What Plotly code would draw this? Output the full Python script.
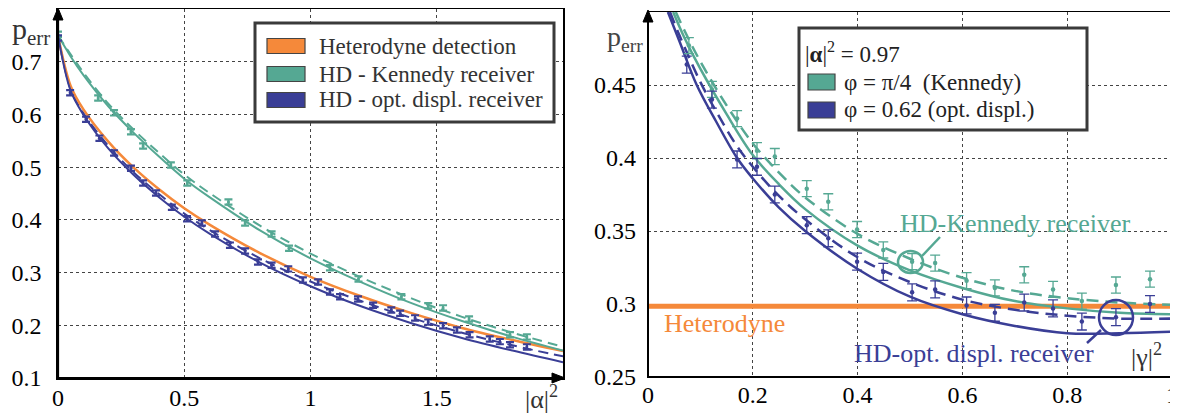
import plotly.graph_objects as go

# page offset of the plot div (browser body margin)
OFF = 8
W, H = 1178 - OFF, 415 - OFF

# ---------------- data: left panel ----------------
curve_x_left = [0.0, 0.05, 0.1, 0.2, 0.3, 0.4, 0.5, 0.6, 0.8, 1.0, 1.2, 1.4, 1.6, 1.8, 2.0]
heterodyne_left = [0.750, 0.654, 0.610, 0.548, 0.499, 0.458, 0.422, 0.391, 0.337, 0.292, 0.255, 0.223, 0.195, 0.172, 0.151]
kennedy_theory_left = [0.750, 0.710, 0.675, 0.615, 0.565, 0.520, 0.478, 0.443, 0.380, 0.327, 0.282, 0.242, 0.208, 0.178, 0.152]
kennedy_model_left = [0.750, 0.714, 0.680, 0.620, 0.571, 0.527, 0.486, 0.451, 0.389, 0.336, 0.291, 0.251, 0.216, 0.186, 0.159]
optdispl_theory_left = [0.750, 0.645, 0.600, 0.535, 0.485, 0.443, 0.406, 0.374, 0.319, 0.274, 0.236, 0.204, 0.176, 0.152, 0.130]
optdispl_model_left = [0.750, 0.648, 0.603, 0.540, 0.490, 0.449, 0.412, 0.381, 0.327, 0.283, 0.246, 0.214, 0.186, 0.162, 0.141]

kennedy_data_x_left = [0.0, 0.159, 0.222, 0.289, 0.337, 0.447, 0.512, 0.675, 0.741, 0.846, 0.915,
                       1.077, 1.19, 1.36, 1.466, 1.525, 1.628, 1.79, 1.857]
kennedy_data_y_left = [0.752, 0.631, 0.603, 0.567, 0.540, 0.504, 0.470, 0.434, 0.394, 0.373, 0.346,
                       0.309, 0.288, 0.254, 0.237, 0.233, 0.212, 0.182, 0.178]
optdispl_data_x_left = [0.0, 0.048, 0.111, 0.164, 0.222, 0.289, 0.337, 0.388, 0.451, 0.511, 0.570, 0.622,
                        0.681, 0.741, 0.792, 0.846, 0.912, 0.970, 1.03, 1.077, 1.117, 1.188, 1.248, 1.32,
                        1.355, 1.414, 1.466, 1.525, 1.58, 1.63, 1.71, 1.75, 1.79, 1.857]
optdispl_data_y_left = [0.745, 0.641, 0.591, 0.555, 0.527, 0.498, 0.470, 0.451, 0.424, 0.402, 0.394, 0.373,
                        0.352, 0.341, 0.320, 0.314, 0.307, 0.286, 0.282, 0.263, 0.254, 0.250, 0.238, 0.229,
                        0.223, 0.214, 0.206, 0.199, 0.191, 0.182, 0.174, 0.169, 0.163, 0.159]

# ---------------- data: right panel ----------------
heterodyne_right_x = [0.0, 1.0]
heterodyne_right_y = [0.2985, 0.2985]

kennedy_theory_x = [0.048, 0.07, 0.1, 0.15, 0.2, 0.25, 0.3, 0.4, 0.5, 0.6, 0.7, 0.8, 0.9, 1.0]
kennedy_theory_y = [0.500, 0.482, 0.461, 0.430, 0.402, 0.382, 0.365, 0.340, 0.323, 0.311, 0.302, 0.297, 0.294, 0.293]
kennedy_model_x = [0.053, 0.07, 0.1, 0.15, 0.2, 0.25, 0.3, 0.4, 0.5, 0.6, 0.7, 0.8, 0.9, 1.0]
kennedy_model_y = [0.500, 0.487, 0.466, 0.436, 0.410, 0.390, 0.373, 0.348, 0.331, 0.318, 0.309, 0.304, 0.301, 0.2995]
optdispl_theory_x = [0.038, 0.06, 0.093, 0.13, 0.17, 0.2, 0.25, 0.3, 0.4, 0.5, 0.6, 0.7, 0.8, 0.9, 1.0]
optdispl_theory_y = [0.500, 0.480, 0.450, 0.425, 0.400, 0.386, 0.366, 0.350, 0.324, 0.305, 0.293, 0.285, 0.280, 0.280, 0.281]
optdispl_model_x = [0.042, 0.06, 0.1, 0.13, 0.17, 0.2, 0.25, 0.3, 0.4, 0.5, 0.6, 0.7, 0.8, 0.9, 1.0]
optdispl_model_y = [0.500, 0.484, 0.452, 0.432, 0.408, 0.394, 0.374, 0.358, 0.332, 0.315, 0.303, 0.296, 0.292, 0.290, 0.290]

kennedy_data_x = [0.078, 0.122, 0.170, 0.208, 0.242, 0.303, 0.344, 0.399, 0.449, 0.504, 0.548, 0.608,
                  0.662, 0.718, 0.773, 0.828, 0.893, 0.958]
kennedy_data_y = [0.477, 0.447, 0.427, 0.405, 0.401, 0.379, 0.370, 0.351, 0.337, 0.329, 0.328, 0.316,
                  0.311, 0.320, 0.310, 0.302, 0.313, 0.317]
optdispl_data_x = [0.074, 0.122, 0.170, 0.208, 0.242, 0.303, 0.344, 0.399, 0.449, 0.504, 0.548, 0.608,
                   0.662, 0.718, 0.773, 0.828, 0.893, 0.958]
optdispl_data_y = [0.464, 0.440, 0.399, 0.394, 0.375, 0.354, 0.345, 0.329, 0.322, 0.308, 0.310, 0.299,
                   0.294, 0.301, 0.297, 0.288, 0.291, 0.300]

left_xticks = [0, 0.5, 1, 1.5]
left_xticklabels = ["0", "0.5", "1", "1.5"]
left_yticks = [0.1, 0.2, 0.3, 0.4, 0.5, 0.6, 0.7]
left_yticklabels = ["0.1", "0.2", "0.3", "0.4", "0.5", "0.6", "0.7"]
right_xticks = [0, 0.2, 0.4, 0.6, 0.8, 1.0]
right_xticklabels = ["0", "0.2", "0.4", "0.6", "0.8", "1"]
right_yticks = [0.25, 0.3, 0.35, 0.4, 0.45]
right_yticklabels = ["0.25", "0.3", "0.35", "0.4", "0.45"]

left_legend = ["Heterodyne detection", "HD - Kennedy receiver", "HD - opt. displ. receiver"]
right_legend_title = "|<b>α</b>|<sup>2</sup> = 0.97"
right_legend = ["φ = π/4  (Kennedy)", "φ = 0.62 (opt. displ.)"]

ORANGE = "#F5893A"
TEAL = "#55A893"
BLUE = "#3A3E96"
SERIF = "Liberation Serif, Times New Roman, serif"


def px(x):
    return (x - OFF) / W


def py(y):
    return 1 - (y - OFF) / H


fig = go.Figure()


def line(x, y, color, width, dash, xa, ya):
    fig.add_trace(go.Scatter(x=x, y=y, mode="lines", xaxis=xa, yaxis=ya, showlegend=False,
                             line=dict(color=color, width=width, dash=dash, shape="spline", smoothing=1.0),
                             hoverinfo="skip"))


# ---- left panel traces ----
line(curve_x_left, kennedy_model_left, TEAL, 2, "10px,6px", "x", "y")
line(curve_x_left, optdispl_model_left, BLUE, 2, "10px,6px", "x", "y")
line(curve_x_left, heterodyne_left, ORANGE, 2.5, "solid", "x", "y")
line(curve_x_left, kennedy_theory_left, TEAL, 2, "solid", "x", "y")
line(curve_x_left, optdispl_theory_left, BLUE, 2, "solid", "x", "y")

fig.add_trace(go.Scatter(x=kennedy_data_x_left, y=kennedy_data_y_left, mode="markers", xaxis="x", yaxis="y",
                         showlegend=False, marker=dict(color=TEAL, size=3),
                         error_y=dict(type="constant", value=0.005, width=4, thickness=2.2, color=TEAL)))
fig.add_trace(go.Scatter(x=optdispl_data_x_left, y=optdispl_data_y_left, mode="markers", xaxis="x", yaxis="y",
                         showlegend=False, marker=dict(color=BLUE, size=3),
                         error_y=dict(type="constant", value=0.005, width=4, thickness=2.2, color=BLUE)))

# ---- right panel traces ----
fig.add_trace(go.Scatter(x=heterodyne_right_x, y=heterodyne_right_y, mode="lines", xaxis="x2", yaxis="y2",
                         showlegend=False, line=dict(color=ORANGE, width=5), hoverinfo="skip"))
line(kennedy_model_x, kennedy_model_y, TEAL, 2.5, "12px,7px", "x2", "y2")
line(optdispl_model_x, optdispl_model_y, BLUE, 2.5, "12px,7px", "x2", "y2")
line(kennedy_theory_x, kennedy_theory_y, TEAL, 2.5, "solid", "x2", "y2")
line(optdispl_theory_x, optdispl_theory_y, BLUE, 2.5, "solid", "x2", "y2")

fig.add_trace(go.Scatter(x=kennedy_data_x, y=kennedy_data_y, mode="markers", xaxis="x2", yaxis="y2",
                         showlegend=False, marker=dict(color=TEAL, size=4.5),
                         error_y=dict(type="constant", value=0.0055, width=5, thickness=1.3, color=TEAL)))
fig.add_trace(go.Scatter(x=optdispl_data_x, y=optdispl_data_y, mode="markers", xaxis="x2", yaxis="y2",
                         showlegend=False, marker=dict(color=BLUE, size=4.5),
                         error_y=dict(type="constant", value=0.0058, width=5, thickness=1.3, color=BLUE)))

tickfont = dict(family=SERIF, size=24, color="black")
grid = dict(showgrid=True, gridcolor="#444", gridwidth=1, griddash="dot", zeroline=False,
            showline=True, linecolor="black", mirror=True, ticks="", automargin=False)

fig.update_layout(
    width=W, height=H, margin=dict(l=0, r=0, t=0, b=0),
    font=dict(family=SERIF),
    paper_bgcolor="white", plot_bgcolor="white", showlegend=False,
    xaxis=dict(domain=[px(58), px(563)], range=[0, 2.0], anchor="y", tickvals=left_xticks,
               ticktext=left_xticklabels, tickfont=tickfont, linewidth=1.6, ticklabelstandoff=-3, **grid),
    yaxis=dict(domain=[py(378), py(9)], range=[0.1, 0.8], anchor="x", tickvals=left_yticks,
               ticktext=left_yticklabels, tickfont=tickfont, linewidth=1.6, ticklabelstandoff=10, **grid),
    xaxis2=dict(domain=[px(648), px(1172)], range=[0, 1.0], anchor="y2", tickvals=right_xticks,
                ticktext=right_xticklabels, tickfont=tickfont, linewidth=1.4, ticklabelstandoff=-4, **grid),
    yaxis2=dict(domain=[py(377), py(12)], range=[0.25, 0.5], anchor="x2", tickvals=right_yticks,
                ticktext=right_yticklabels, tickfont=tickfont, linewidth=1.4, ticklabelstandoff=6, **grid),
)

shapes = []
annotations = []

# thicker main axis lines
shapes.append(dict(type="line", xref="paper", yref="paper", x0=px(58), x1=px(58), y0=py(378), y1=py(10),
                   line=dict(color="black", width=2.2)))
shapes.append(dict(type="line", xref="paper", yref="paper", x0=px(58), x1=px(556), y0=py(378), y1=py(378),
                   line=dict(color="black", width=2.2)))
shapes.append(dict(type="line", xref="paper", yref="paper", x0=px(648), x1=px(648), y0=py(377), y1=py(13),
                   line=dict(color="black", width=2.0)))
shapes.append(dict(type="line", xref="paper", yref="paper", x0=px(648), x1=px(1172), y0=py(377), y1=py(377),
                   line=dict(color="black", width=2.0)))


def tri(points):
    d = "M " + " L ".join(f"{px(a):.5f},{py(b):.5f}" for a, b in points) + " Z"
    return dict(type="path", xref="paper", yref="paper", path=d, fillcolor="black",
                line=dict(color="black", width=1))


# arrows
shapes.append(tri([(58, 8), (53, 20), (63, 20)]))
shapes.append(tri([(565, 378), (552, 373), (552, 383)]))
shapes.append(tri([(648, 10), (643, 22), (653, 22)]))

# left legend box
shapes.append(dict(type="rect", xref="paper", yref="paper", x0=px(255), x1=px(554), y0=py(122), y1=py(23),
                   fillcolor="white", line=dict(color="#3a3a3a", width=3)))
for i, (lab, col) in enumerate(zip(left_legend, [ORANGE, TEAL, BLUE])):
    yc = [46, 74, 100][i]
    shapes.append(dict(type="rect", xref="paper", yref="paper", x0=px(267), x1=px(305), y0=py(yc + 7.5),
                       y1=py(yc - 7.5), fillcolor=col, line=dict(color="#444", width=1.2)))
    annotations.append(dict(xref="paper", yref="paper", x=px(317), y=py(yc), text=lab, showarrow=False,
                            xanchor="left", yanchor="middle",
                            font=dict(family=SERIF, size=23, color="#333")))

# right legend box
shapes.append(dict(type="rect", xref="paper", yref="paper", x0=px(799), x1=px(1087), y0=py(130), y1=py(28),
                   fillcolor="white", line=dict(color="#3a3a3a", width=3)))
annotations.append(dict(xref="paper", yref="paper", x=px(803), y=py(53), text=right_legend_title,
                        showarrow=False, xanchor="left", yanchor="middle",
                        font=dict(family=SERIF, size=23, color="#222")))
for i, (lab, col) in enumerate(zip(right_legend, [TEAL, BLUE])):
    yc = [82, 110][i]
    shapes.append(dict(type="rect", xref="paper", yref="paper", x0=px(808), x1=px(835), y0=py(yc + 8),
                       y1=py(yc - 8), fillcolor=col, line=dict(color="#444", width=1.2)))
    annotations.append(dict(xref="paper", yref="paper", x=px(842), y=py(yc), text=lab, showarrow=False,
                            xanchor="left", yanchor="middle",
                            font=dict(family=SERIF, size=23, color="#222")))

# axis labels
annotations.append(dict(xref="paper", yref="paper", x=px(31), y=py(31), text="p<sub>err</sub>",
                        showarrow=False, xanchor="center", yanchor="middle",
                        font=dict(family=SERIF, size=30, color="#333")))
annotations.append(dict(xref="paper", yref="paper", x=px(625), y=py(38), text="p<sub>err</sub>",
                        showarrow=False, xanchor="center", yanchor="middle",
                        font=dict(family=SERIF, size=28, color="#444")))
annotations.append(dict(xref="paper", yref="paper", x=px(541), y=py(397), text="|α|<sup>2</sup>",
                        showarrow=False, xanchor="center", yanchor="middle",
                        font=dict(family=SERIF, size=26, color="#333")))
annotations.append(dict(xref="paper", yref="paper", x=px(1146), y=py(355), text="|γ|<sup>2</sup>",
                        showarrow=False, xanchor="center", yanchor="middle",
                        font=dict(family=SERIF, size=26, color="#333")))

# in-plot labels (right panel)
annotations.append(dict(xref="paper", yref="paper", x=px(1015), y=py(223), text="HD-Kennedy receiver",
                        showarrow=False, xanchor="center", yanchor="middle",
                        font=dict(family=SERIF, size=26, color=TEAL)))
annotations.append(dict(xref="paper", yref="paper", x=px(974), y=py(353), text="HD-opt. displ. receiver",
                        showarrow=False, xanchor="center", yanchor="middle",
                        font=dict(family=SERIF, size=26, color=BLUE)))
annotations.append(dict(xref="paper", yref="paper", x=px(724), y=py(323), text="Heterodyne",
                        showarrow=False, xanchor="center", yanchor="middle",
                        font=dict(family=SERIF, size=26, color=ORANGE)))

# circles and pointer lines
shapes.append(dict(type="circle", xref="paper", yref="paper", x0=px(898), x1=px(923), y0=py(273), y1=py(251),
                   line=dict(color=TEAL, width=2.5)))
shapes.append(dict(type="line", xref="paper", yref="paper", x0=px(922), x1=px(940), y0=py(256), y1=py(237),
                   line=dict(color=TEAL, width=2.5)))
shapes.append(dict(type="circle", xref="paper", yref="paper", x0=px(1099), x1=px(1133), y0=py(335), y1=py(300),
                   line=dict(color=BLUE, width=2.5)))
shapes.append(dict(type="line", xref="paper", yref="paper", x0=px(1101), x1=px(1087), y0=py(330), y1=py(343),
                   line=dict(color=BLUE, width=2.5)))

fig.update_layout(shapes=shapes, annotations=annotations)
fig.write_html("out.html")
